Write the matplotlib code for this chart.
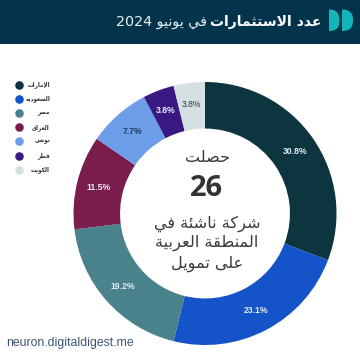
import matplotlib
matplotlib.use('Agg')
import matplotlib.pyplot as plt
from matplotlib.patches import Rectangle, PathPatch
from matplotlib.path import Path

countries = ['الإمارات', 'السعودية', 'مصر', 'العراق', 'تونس', 'قطر', 'الكويت']
startups = [8, 6, 5, 3, 2, 1, 1]
colors = ['#0c3540', '#1554c8', '#4a828c', '#7a1c4c', '#6d9ce8', '#3a1a82', '#d5e0e3']
title_bold = 'عدد الاستثمارات'
title_rest = 'في يونيو 2024'
center_top = 'حصلت'
center_num = '26'
center_lines = ['شركة ناشئة في', 'المنطقة العربية', 'على تمويل']
source = 'neuron.digitaldigest.me'

# matplotlib does not shape arabic, so pick the presentation forms by hand
BASE = {'ء': 0xFE80, 'آ': 0xFE81, 'أ': 0xFE83, 'ؤ': 0xFE85, 'إ': 0xFE87, 'ئ': 0xFE89, 'ا': 0xFE8D,
        'ب': 0xFE8F, 'ة': 0xFE93, 'ت': 0xFE95, 'ث': 0xFE99, 'ج': 0xFE9D, 'ح': 0xFEA1, 'خ': 0xFEA5,
        'د': 0xFEA9, 'ذ': 0xFEAB, 'ر': 0xFEAD, 'ز': 0xFEAF, 'س': 0xFEB1, 'ش': 0xFEB5, 'ص': 0xFEB9,
        'ض': 0xFEBD, 'ط': 0xFEC1, 'ظ': 0xFEC5, 'ع': 0xFEC9, 'غ': 0xFECD, 'ف': 0xFED1, 'ق': 0xFED5,
        'ك': 0xFED9, 'ل': 0xFEDD, 'م': 0xFEE1, 'ن': 0xFEE5, 'ه': 0xFEE9, 'و': 0xFEED, 'ى': 0xFEEF,
        'ي': 0xFEF1}
NO_LEFT = set('ءآأؤإاةدذرزوى')
LAM_ALEF = {'ا': 0xFEFB, 'أ': 0xFEF7, 'إ': 0xFEF9, 'آ': 0xFEF5}


def shape_word(word):
    out = []
    i = 0
    prev_joins = False
    while i < len(word):
        c = word[i]
        if c == 'ل' and i + 1 < len(word) and word[i + 1] in LAM_ALEF:
            out.append(chr(LAM_ALEF[word[i + 1]] + (1 if prev_joins else 0)))
            prev_joins = False
            i += 2
            continue
        next_ok = i + 1 < len(word) and word[i + 1] in BASE and word[i + 1] != 'ء'
        joins_next = c not in NO_LEFT and next_ok
        if prev_joins and joins_next:
            form = 3
        elif joins_next:
            form = 2
        elif prev_joins:
            form = 1
        else:
            form = 0
        out.append(chr(BASE[c] + form))
        prev_joins = joins_next
        i += 1
    return ''.join(reversed(out))


def ar(text):
    words = []
    for w in text.split(' '):
        words.append(shape_word(w) if w[0] in BASE else w)
    return ' '.join(reversed(words))


fig = plt.figure(figsize=(3.6, 3.6), dpi=100)

# donut
ax = fig.add_axes([(205 - 131.5) / 360, (360 - 345) / 360, 263 / 360, 263 / 360])
wedges, _, pcts = ax.pie(startups, colors=colors, startangle=90, counterclock=False, radius=1,
                         autopct='%.1f%%', pctdistance=0.835, wedgeprops=dict(width=0.354),
                         textprops=dict(color='#e6eef2', fontsize=6.2, fontweight='bold',
                                        family='Liberation Sans'))
pcts[4].set_color('#1d3b63')
pcts[-1].set_color('#333333')
pcts[-1].set_fontweight('normal')
ax.set_xlim(-1, 1)
ax.set_ylim(-1, 1)

# overlay in pixel coordinates for header, legend and centre text
ov = fig.add_axes([0, 0, 1, 1], zorder=3)
ov.set_xlim(0, 360)
ov.set_ylim(360, 0)
ov.axis('off')
ov.add_patch(Rectangle((0, 0), 360, 43.5, color='#04344b', lw=0))

# logo
codes = [Path.MOVETO, Path.CURVE4, Path.CURVE4, Path.CURVE4,
         Path.CURVE4, Path.CURVE4, Path.CURVE4, Path.CLOSEPOLY]
for x0, w in [(329, 10.5), (342, 11)]:
    verts = [(x0, 9.5), (x0 + w * 0.85, 9.5), (x0 + w, 15), (x0 + w, 20.5),
             (x0 + w, 26), (x0 + w * 0.85, 31), (x0, 31), (x0, 9.5)]
    ov.add_patch(PathPatch(Path(verts, codes), color='#12b5bb', lw=0))

ov.text(321, 22, ar(title_bold), color='white', fontsize=10.1, fontweight='bold', ha='right', va='center')
ov.text(207, 22, ar(title_rest), color='#e8f0f2', fontsize=10.3, ha='right', va='center')

# legend
for i, (name, col) in enumerate(zip(countries, colors)):
    y = 84.8 + i * 14.15
    ov.scatter([18.5], [y], s=38, color=col, lw=0)
    ov.text(50, y, ar(name), fontsize=4.1, fontweight='bold', color='#333333', ha='right', va='center')

# centre text
ov.text(208, 158, ar(center_top), fontsize=11.5, color='#3a3a3a', ha='center', va='center')
ov.text(206, 188, center_num, fontsize=21, fontweight='bold', color='#333333', ha='center', va='center',
        family='Open Sans')
for line, y in zip(center_lines, [224, 243, 264]):
    ov.text(207, y, ar(line), fontsize=11.6, color='#3a3a3a', ha='center', va='center')

ov.text(6, 343, source, fontsize=8.85, color='#3d5578', family='Liberation Sans', ha='left', va='center')

fig.savefig('out.png', dpi=100)
